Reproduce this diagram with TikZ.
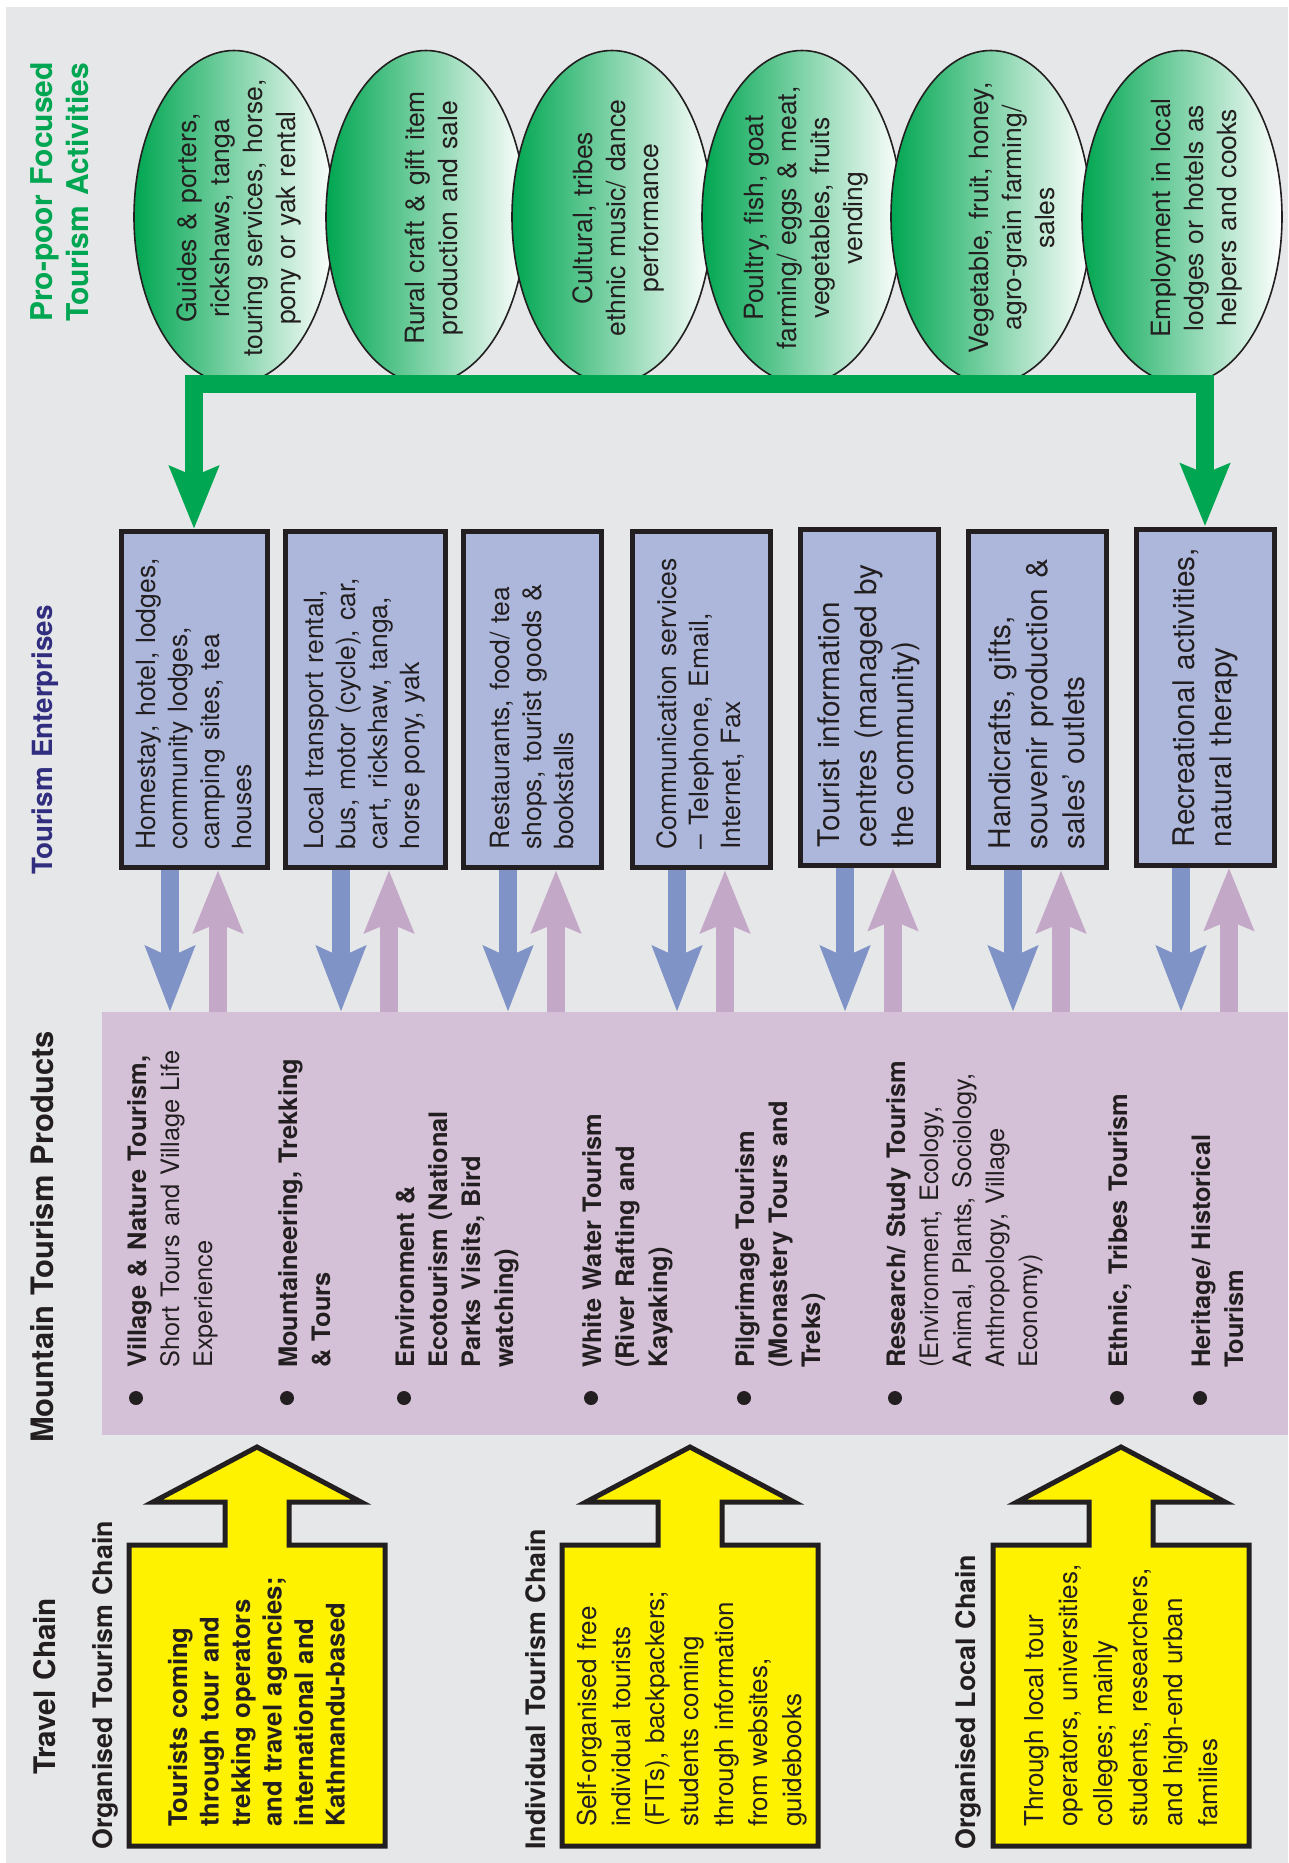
\documentclass[tikz,border=0pt]{standalone}
\usepackage{fontspec}
\setmainfont{TeX Gyre Heros}
\usetikzlibrary{arrows.meta,shapes.geometric}

\definecolor{bggray}{RGB}{230,231,232}
\definecolor{prodpurple}{RGB}{212,193,216}
\definecolor{entblue}{RGB}{173,183,220}
\definecolor{arrblue}{RGB}{128,147,199}
\definecolor{arrpurple}{RGB}{196,168,200}
\definecolor{chainyellow}{RGB}{255,242,0}
\definecolor{pgreen}{RGB}{0,166,81}
\definecolor{entnavy}{RGB}{49,46,128}
\definecolor{inkblack}{RGB}{35,31,32}

\begin{document}
\begin{tikzpicture}[x=1pt,y=-1pt,
  rtext/.style={rotate=90,inner sep=0pt,anchor=base west,align=left,text width=450pt,text=inkblack},
  head/.style={font=\bfseries\fontsize{#1}{36}\selectfont},
  sub/.style={font=\bfseries\fontsize{26.8}{32}\selectfont},
  ent/.style={rotate=90,draw=inkblack,line width=5pt,fill=entblue,minimum width=336pt,
    text width=300pt,align=left,inner sep=0pt,text=inkblack},
  entA/.style={ent,font=\fontsize{26.5}{32}\selectfont},
  entB/.style={ent,font=\fontsize{29.8}{37}\selectfont},
  act/.style={ellipse,draw=inkblack,line width=1.6pt,minimum width=200pt,minimum height=333pt,
    inner sep=0pt,left color=pgreen,middle color=pgreen!28,right color=white},
  acttext/.style={rotate=90,inner sep=0pt,align=center,text width=300pt,text=inkblack,
    font=\fontsize{26.5}{33}\selectfont},
  prodtxt/.style={font=\fontsize{25.4}{33}\selectfont},
  bullet/.style={circle,fill=inkblack,minimum size=14pt,inner sep=0pt},
  chainarr/.style={fill=chainyellow,draw=inkblack,line width=5pt},
  downarr/.style={draw=arrblue,line width=18pt,-{Stealth[length=65pt,width=48pt,inset=10pt]}},
  uparr/.style={draw=arrpurple,line width=18pt,-{Stealth[length=62pt,width=48pt,inset=9pt]}},
  greenarr/.style={draw=pgreen,line width=18pt,
    {Stealth[length=62pt,width=48pt,inset=9pt]}-{Stealth[length=62pt,width=48pt,inset=9pt]}}]

% background
\useasboundingbox (0,0) rectangle (1288,1863);
\fill[white] (0,0) rectangle (1288,1863);
\fill[bggray] (6,7) rectangle (1288,1863);

% headers
\node[rtext,head=30,text=pgreen] (hact) at (52,322) {Pro-poor Focused\\Tourism Activities};
\node[rtext,head=27.8,text=entnavy] (hent) at (52,875) {Tourism Enterprises};
\node[rtext,head=30.9] (hprod) at (53,1443) {Mountain Tourism Products};
\node[rtext,head=29.7] (htravel) at (55,1775) {Travel Chain};
\node[rtext,sub] (horg) at (112,1850) {Organised Tourism Chain};
\node[rtext,sub] (hind) at (545,1850) {Individual Tourism Chain};
\node[rtext,sub] (hloc) at (975,1850) {Organised Local Chain};

% pro-poor activities
\foreach \n/\cx/\tx/\txt in {
  1/234/239/{Guides \& porters,\\rickshaws, tanga\\touring services, horse,\\pony or yak rental},
  2/426/434/{Rural craft \& gift item\\production and sale},
  3/612/618/{Cultural, tribes\\ethnic music/ dance\\performance},
  4/802/806/{Poultry, fish, goat\\farming/ eggs \& meat,\\vegetables, fruits\\vending},
  5/991/1012/{Vegetable, fruit, honey,\\agro-grain farming/\\sales},
  6/1182/1197/{Employment in local\\lodges or hotels as\\helpers and cooks}}{
  \node[act] (act\n) at (\cx,217) {};
  \node[acttext] (acttxt\n) at (\tx,218) {\txt};
}

% products
\node[fill=prodpurple,minimum width=1186pt,minimum height=423pt,inner sep=0pt,outer sep=0pt] (prod) at (695,1223.5) {};
\foreach \n/\bx/\txt in {
  1/136/{\textbf{Village \& Nature Tourism,}\\Short Tours and Village Life\\Experience},
  2/287/{\textbf{Mountaineering, Trekking}\\\textbf{\& Tours}},
  3/404/{\textbf{Environment \&}\\\textbf{Ecotourism (National}\\\textbf{Parks Visits, Bird}\\\textbf{watching)}},
  4/591/{\textbf{White Water Tourism}\\\textbf{(River Rafting and}\\\textbf{Kayaking)}},
  5/744/{\textbf{Pilgrimage Tourism}\\\textbf{(Monastery Tours and}\\\textbf{Treks)}},
  6/895/{\textbf{Research/ Study Tourism}\\(Environment, Ecology,\\Animal, Plants, Sociology,\\Anthropology, Village\\Economy)},
  7/1117/{\textbf{Ethnic, Tribes Tourism}},
  8/1200/{\textbf{Heritage/ Historical}\\\textbf{Tourism}}}{
  \node[bullet] (dot\n) at (\bx,1398) {};
  \node[rtext,prodtxt] (item\n) at (\bx+10,1368) {\txt};
}

% enterprises
\node[entA,minimum height=146pt] (ent1) at (194,699.5) {Homestay, hotel, lodges,\\community lodges,\\camping sites, tea\\houses};
\node[entA,minimum height=160pt] (ent2) at (365,699.5) {Local transport rental,\\bus, motor (cycle), car,\\cart, rickshaw, tanga,\\horse pony, yak};
\node[entA,minimum height=138pt] (ent3) at (532,699.5) {Restaurants, food/ tea\\shops, tourist goods \&\\bookstalls};
\node[entA,minimum height=138pt] (ent4) at (701,699.5) {Communication services\\-- Telephone, Email,\\Internet, Fax};
\node[entB,minimum height=138pt] (ent5) at (869,697) {Tourist information\\centres (managed by\\the community)};
\node[entB,minimum height=138pt] (ent6) at (1037,699.5) {Handicrafts, gifts,\\souvenir production \&\\sales' outlets};
\node[entB,minimum height=138pt] (ent7) at (1205,697) {Recreational activities,\\natural therapy};

% arrows enterprises <-> products
\foreach \n in {1,...,7}{
  \coordinate (dn\n) at ([xshift=-24pt]ent\n.west);
  \coordinate (up\n) at ([xshift=24pt]ent\n.west);
  \draw[downarr] (dn\n) -- (dn\n |- prod.north);
  \draw[uparr] (up\n |- prod.north) -- (up\n);
}

% green collector
\coordinate (barL) at (196.5,384);
\draw[greenarr] (ent1.east) -- (ent1.east |- barL) -- (ent7.east |- barL) -- (ent7.east);

% travel chains
\foreach \cx in {257,690,1121}
  \filldraw[chainarr] (\cx-128,1846) -- (\cx-128,1545) -- (\cx-32,1545) -- (\cx-32,1502)
    -- (\cx-104,1502) -- (\cx,1447) -- (\cx+104,1502) -- (\cx+32,1502) -- (\cx+32,1545)
    -- (\cx+128,1545) -- (\cx+128,1846) -- cycle;
\node[rtext,font=\bfseries\fontsize{25.7}{31.5}\selectfont] (chain1) at (187,1827)
  {Tourists coming\\through tour and\\trekking operators\\and travel agencies;\\international and\\Kathmandu-based};
\node[rtext,font=\fontsize{26}{34.3}\selectfont] (chain2) at (596,1827)
  {Self-organised free\\individual tourists\\(FITs), backpackers;\\students coming\\through information\\from websites,\\guidebooks};
\node[rtext,font=\fontsize{26}{34.8}\selectfont] (chain3) at (1043,1827)
  {Through local tour\\operators, universities,\\colleges; mainly\\students, researchers,\\and high-end urban\\families};

\end{tikzpicture}
\end{document}
